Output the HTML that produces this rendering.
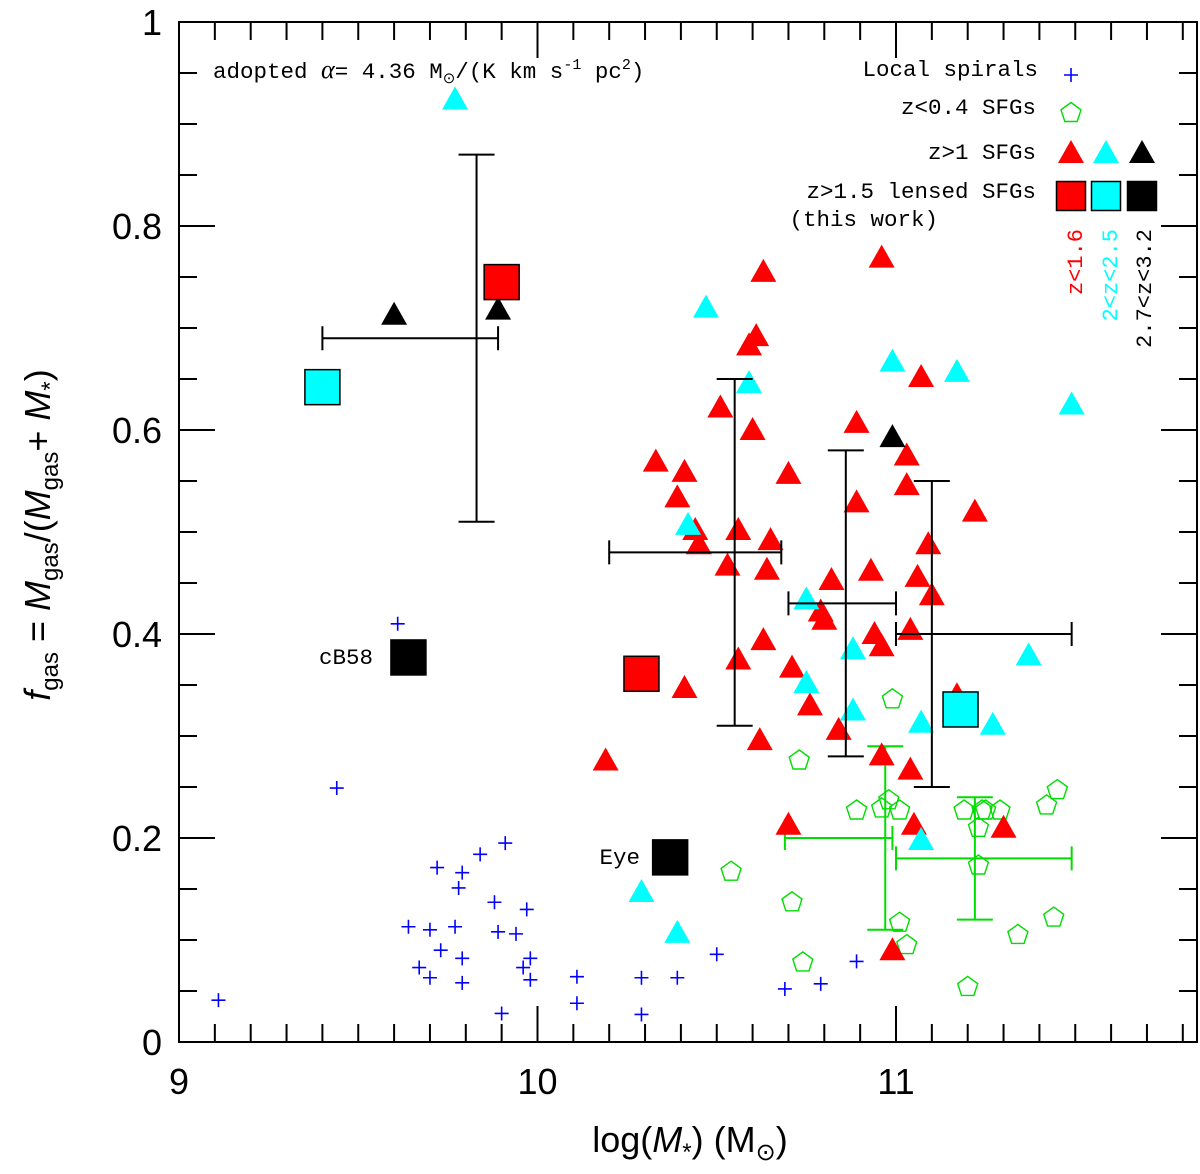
<!DOCTYPE html>
<html><head><meta charset="utf-8"><style>
body{margin:0;background:#fff}
svg text{font-family:"Liberation Mono",monospace}
</style></head><body>
<svg id="chart" width="1200" height="1169" viewBox="0 0 1200 1169" xmlns="http://www.w3.org/2000/svg">
<g id="ticks"></g>
<g id="marks"></g>
<rect x="179" y="22" width="1018" height="1020" fill="none" stroke="#000" stroke-width="2"/>
<g font-size="22.5">
<text x="213" y="78">adopted <tspan font-family="Liberation Serif" font-style="italic" font-size="26">α</tspan>= 4.36 M<tspan font-size="15" dy="5">⊙</tspan><tspan dy="-5">/(K km s</tspan><tspan font-size="15" dy="-9">-1</tspan><tspan dy="9"> pc</tspan><tspan font-size="15" dy="-9">2</tspan><tspan dy="9">)</tspan></text>
<text x="373" y="664" text-anchor="end">cB58</text>
<text x="640" y="864" text-anchor="end">Eye</text>
</g>
<g font-size="22.5" text-anchor="end">
<text x="1038" y="76">Local spirals</text>
<text x="1036" y="114">z&lt;0.4 SFGs</text>
<text x="1036" y="159">z&gt;1 SFGs</text>
<text x="1036" y="198">z&gt;1.5 lensed SFGs</text>
<text x="938" y="226">(this work)</text>
<text transform="translate(1082,229) rotate(-90)" fill="#ff0000" font-size="22">z&lt;1.6</text>
<text transform="translate(1117,229) rotate(-90)" fill="#00ffff" font-size="22">2&lt;z&lt;2.5</text>
<text transform="translate(1151,229) rotate(-90)" fill="#000" font-size="22">2.7&lt;z&lt;3.2</text>
</g>
<g id="legmarks"></g>
<g>
<text x="690" y="1152" text-anchor="middle" font-size="36" style="font-family:'Liberation Sans',sans-serif">log(<tspan font-style="italic">M</tspan><tspan font-size="24" dy="8">*</tspan><tspan dy="-8">)  (M</tspan><tspan font-size="24" dy="8">⊙</tspan><tspan dy="-8">)</tspan></text>
<text transform="translate(50,535) rotate(-90)" text-anchor="middle" font-size="36" style="font-family:'Liberation Sans',sans-serif"><tspan font-style="italic">f</tspan><tspan font-size="24" dy="8">gas</tspan><tspan dy="-8">  =  </tspan><tspan font-style="italic">M</tspan><tspan font-size="24" dy="8">gas</tspan><tspan dy="-8">/(</tspan><tspan font-style="italic">M</tspan><tspan font-size="24" dy="8">gas</tspan><tspan dy="-8">+ </tspan><tspan font-style="italic">M</tspan><tspan font-size="24" dy="8">*</tspan><tspan dy="-8">)</tspan></text>
</g>
</svg>
<script>
const xTicks=[9,10,11];
const yTicks=[0,0.2,0.4,0.6,0.8,1];
const yTickLabels=["0","0.2","0.4","0.6","0.8","1"];
const spiralX=[9.11,9.44,9.61,9.72,9.79,9.84,9.78,9.64,9.70,9.77,9.91,9.88,9.97,9.89,9.94,9.73,9.67,9.70,9.79,9.79,9.96,9.98,9.98,9.90,10.11,10.11,10.29,10.29,10.39,10.50,10.69,10.79,10.89];
const spiralY=[0.041,0.249,0.41,0.171,0.166,0.184,0.151,0.113,0.110,0.113,0.195,0.137,0.130,0.108,0.106,0.090,0.073,0.063,0.082,0.058,0.073,0.082,0.061,0.028,0.064,0.038,0.063,0.027,0.063,0.086,0.052,0.057,0.079];
const lowzX=[10.54,10.71,10.74,10.99,10.73,10.89,10.96,10.98,11.01,11.01,11.03,11.19,11.24,11.29,11.23,11.23,11.20,11.34,11.42,11.45,11.44,11.25];
const lowzY=[0.167,0.137,0.078,0.336,0.276,0.227,0.229,0.237,0.227,0.117,0.095,0.227,0.227,0.227,0.210,0.173,0.054,0.105,0.232,0.247,0.122,0.227];
const redTriX=[10.19,10.33,10.39,10.41,10.45,10.44,10.51,10.53,10.56,10.60,10.56,10.59,10.61,10.63,10.65,10.64,10.62,10.63,10.70,10.71,10.76,10.79,10.80,10.82,10.84,10.89,10.89,10.93,10.96,10.94,10.96,10.96,11.03,11.03,11.07,11.04,11.04,11.06,11.09,11.10,11.05,11.22,11.30,11.17,10.99,10.70,10.41];
const redTriY=[0.276,0.569,0.534,0.559,0.488,0.502,0.622,0.467,0.502,0.600,0.375,0.683,0.692,0.755,0.492,0.463,0.296,0.394,0.557,0.367,0.330,0.422,0.414,0.453,0.306,0.607,0.529,0.462,0.281,0.400,0.769,0.388,0.575,0.546,0.652,0.404,0.267,0.456,0.488,0.438,0.213,0.520,0.210,0.340,0.090,0.213,0.347];
const cyanTriX=[9.77,10.47,10.59,10.42,10.75,10.75,10.88,10.88,10.99,11.17,11.49,11.37,11.07,11.27,11.07,10.29,10.39];
const cyanTriY=[0.924,0.720,0.646,0.507,0.434,0.352,0.385,0.325,0.667,0.657,0.625,0.379,0.313,0.311,0.198,0.147,0.107];
const blackTriX=[9.60,9.89,10.99];
const blackTriY=[0.713,0.718,0.593];
const sqX=[9.90,10.29,9.40,11.18,9.64,10.37];
const sqY=[0.745,0.361,0.642,0.326,0.377,0.181];
const sqColor=["#ff0000","#ff0000","#00ffff","#00ffff","#000000","#000000"];
const ebX=[9.83,10.55,10.86,11.10];
const ebY=[0.69,0.48,0.43,0.40];
const ebXlo=[9.40,10.20,10.70,11.00];
const ebXhi=[9.89,10.68,11.00,11.49];
const ebYlo=[0.51,0.31,0.28,0.25];
const ebYhi=[0.87,0.65,0.58,0.55];
const gebX=[10.97,11.22];
const gebY=[0.20,0.18];
const gebXlo=[10.69,11.00];
const gebXhi=[10.99,11.49];
const gebYlo=[0.11,0.12];
const gebYhi=[0.29,0.24];

const NS='http://www.w3.org/2000/svg';
const X=v=>179+(v-9)*358.5;
const Y=v=>1042-v*1020;
function mk(tag,attrs,parent){const e=document.createElementNS(NS,tag);for(const k in attrs)e.setAttribute(k,attrs[k]);parent.appendChild(e);return e;}
const T=document.getElementById('ticks'),M=document.getElementById('marks'),L=document.getElementById('legmarks');
for(let i=0;i<=28;i++){const v=9+i*0.1;const x=X(v);if(x>1197)break;const major=Math.abs(v-Math.round(v))<1e-6;const len=major?36:18;
const t1=mk('line',{x1:x,x2:x,y1:1042,y2:1042-len,stroke:'#000','stroke-width':2},T);


const t2=mk('line',{x1:x,x2:x,y1:22,y2:22+len,stroke:'#000','stroke-width':2},T);

}
for(let i=0;i<=20;i++){const v=i*0.05;const y=Y(v);const major=i%4==0;const len=major?36:18;
const t1=mk('line',{x1:179,x2:179+len,y1:y,y2:y,stroke:'#000','stroke-width':2},T);


const t2=mk('line',{x1:1197,x2:1197-len,y1:y,y2:y,stroke:'#000','stroke-width':2},T);

}
xTicks.forEach(v=>{const t=mk('text',{x:X(v),y:1094,'text-anchor':'middle','font-size':36,style:"font-family:'Liberation Sans',sans-serif"},T);t.textContent=v;

});
yTicks.forEach((v,i)=>{const t=mk('text',{x:162,y:Y(v)+13,'text-anchor':'end','font-size':36,style:"font-family:'Liberation Sans',sans-serif"},T);t.textContent=yTickLabels[i];

});
function plus(cx,cy,p,c){return mk('path',{d:`M${cx-7},${cy}H${cx+7}M${cx},${cy-7}V${cy+7}`,stroke:c,'stroke-width':1.6,fill:'none'},p);}
function pent(cx,cy,p){let pts=[];for(let k=0;k<5;k++){const a=-Math.PI/2+k*2*Math.PI/5;pts.push((cx+10.5*Math.cos(a)).toFixed(1)+','+(cy+10.5*Math.sin(a)).toFixed(1));}return mk('polygon',{points:pts.join(' '),fill:'none',stroke:'#00dd00','stroke-width':1.4},p);}
function tri(cx,cy,c,p){return mk('polygon',{points:`${cx-13},${cy+10} ${cx+13},${cy+10} ${cx},${cy-13}`,fill:c},p);}
function sq(cx,cy,c,p,s){s=s||35;return mk('rect',{x:cx-s/2,y:cy-s/2,width:s,height:s,fill:c,stroke:'#000','stroke-width':1.5},p);}
function eb(x,y,xl,xh,yl,yh,c,p){const g=mk('g',{stroke:c,'stroke-width':2,fill:'none'},p);
mk('path',{d:`M${X(xl)},${Y(y)}H${X(xh)}M${X(xl)},${Y(y)-12}V${Y(y)+12}M${X(xh)},${Y(y)-12}V${Y(y)+12}M${X(x)},${Y(yl)}V${Y(yh)}M${X(x)-18},${Y(yl)}H${X(x)+18}M${X(x)-18},${Y(yh)}H${X(x)+18}`},g);return g;}
spiralX.forEach((v,i)=>{const e=plus(X(v),Y(spiralY[i]),M,'#0000ff');

});
lowzX.forEach((v,i)=>{const e=pent(X(v),Y(lowzY[i]),M);

});
gebX.forEach((v,i)=>{const e=eb(v,gebY[i],gebXlo[i],gebXhi[i],gebYlo[i],gebYhi[i],'#00dd00',M);

});
redTriX.forEach((v,i)=>{const e=tri(X(v),Y(redTriY[i]),'#ff0000',M);

});
cyanTriX.forEach((v,i)=>{const e=tri(X(v),Y(cyanTriY[i]),'#00ffff',M);

});
blackTriX.forEach((v,i)=>{const e=tri(X(v),Y(blackTriY[i]),'#000000',M);

});
ebX.forEach((v,i)=>{const e=eb(v,ebY[i],ebXlo[i],ebXhi[i],ebYlo[i],ebYhi[i],'#000',M);

});
sqX.forEach((v,i)=>{const e=sq(X(v),Y(sqY[i]),sqColor[i],M);

});
let e;
e=plus(1071,75,L,'#0000ff');


e=pent(1071,113,L);


[['#ff0000',1071],['#00ffff',1106],['#000000',1142]].forEach(([c,x])=>{
const a=tri(x,153,c,L);


const b=sq(x,196,c,L,29);

});
</script>
</body></html>
